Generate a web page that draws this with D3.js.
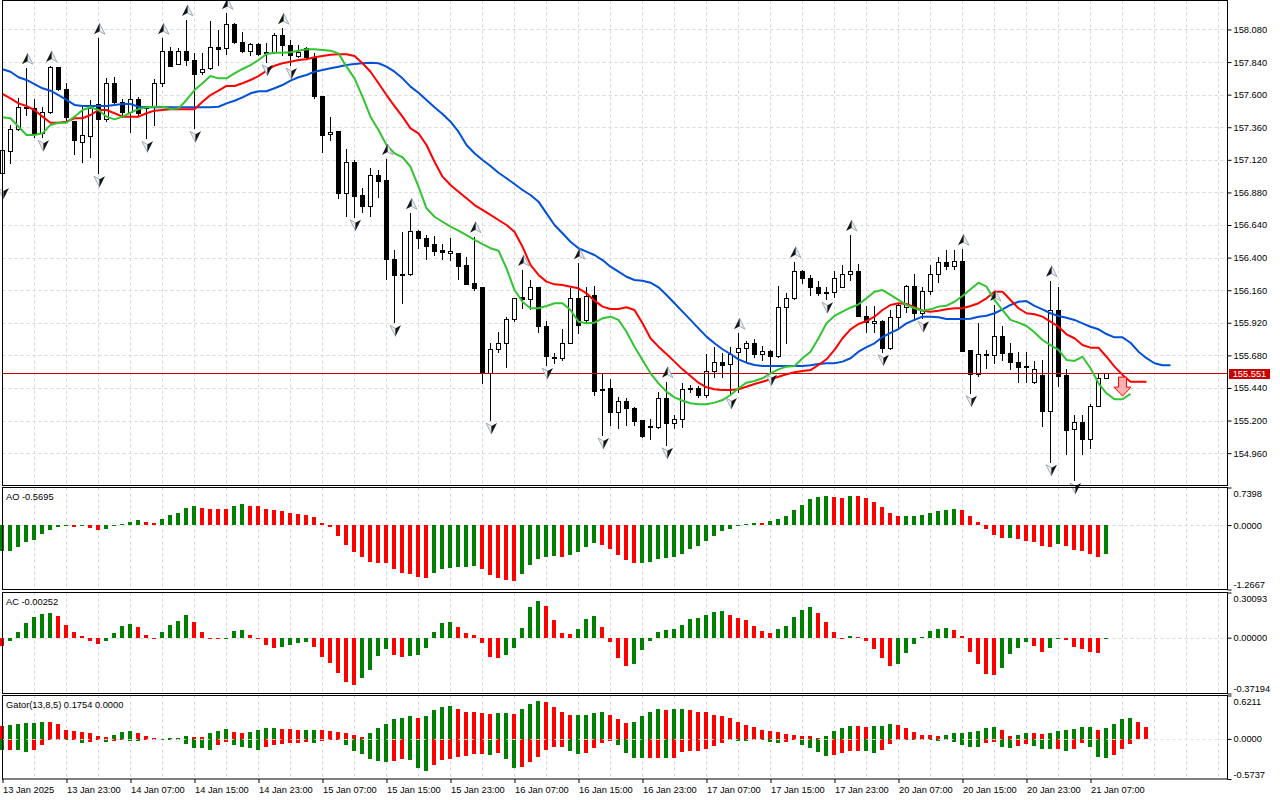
<!DOCTYPE html>
<html>
<head>
<meta charset="utf-8">
<script src="https://cdn.jsdelivr.net/npm/d3@7"></script>
<style>
  body { margin: 0; background: #fff; }
  svg { display: block; }
</style>
</head>
<body>
<svg id="chart" width="1280" height="800"></svg>
<script>
// USDJPY-like H1 candles (bar 0 = leftmost)
let open = [157.023,157.187,157.345,157.500,157.499,157.315,157.470,157.801,157.639,157.406,
157.254,157.298,157.529,157.423,157.684,157.546,157.474,157.570,157.516,157.507,
157.688,157.924,157.823,157.924,157.855,157.764,157.794,157.949,157.941,158.118,
157.990,157.924,157.971,157.916,157.912,158.039,157.966,157.887,157.941,157.880,
157.590,157.308,157.332,156.874,157.102,156.861,156.782,157.008,156.971,156.390,
156.275,156.279,156.596,156.542,156.500,156.456,156.432,156.432,156.346,156.211,
156.185,155.548,155.725,155.769,155.946,156.112,156.093,156.181,155.896,155.670,
155.658,155.773,156.100,155.940,156.125,155.423,155.437,155.261,155.344,155.290,
155.204,155.160,155.150,155.364,155.180,155.209,155.430,155.437,155.388,155.565,
155.629,155.616,155.703,155.732,155.769,155.688,155.715,155.678,156.039,156.100,
156.301,156.252,156.181,156.149,156.144,156.181,156.279,156.301,155.972,155.916,
155.933,155.737,155.965,156.034,156.190,155.990,156.154,156.279,156.365,156.338,
156.375,155.720,155.541,155.688,155.683,155.823,155.695,155.634,155.604,155.481,
155.535,155.273,156.014,155.535,155.135,155.187,155.062,155.307,155.511];
let high = [157.207,157.376,157.573,157.794,157.566,157.511,157.811,157.806,157.684,157.406,
157.511,157.561,158.015,157.720,157.728,157.570,157.708,157.585,157.516,157.715,
158.015,157.953,157.941,158.150,157.904,157.909,158.142,158.076,158.199,158.125,
158.059,157.978,157.978,157.978,158.052,158.089,158.002,157.966,157.949,157.904,
157.590,157.433,157.332,157.198,157.119,156.910,157.058,157.045,157.126,156.456,
156.591,156.726,156.603,156.566,156.559,156.500,156.542,156.436,156.402,156.554,
156.185,155.769,155.850,155.960,156.105,156.309,156.235,156.186,155.933,155.695,
155.872,156.174,156.358,156.185,156.190,155.548,155.504,155.371,155.369,155.302,
155.204,155.209,155.413,155.486,155.241,155.474,155.462,155.455,155.690,155.740,
155.700,155.740,155.843,155.788,155.798,155.749,155.720,156.190,156.137,156.370,
156.309,156.272,156.230,156.181,156.301,156.345,156.566,156.351,156.044,156.044,
155.940,156.014,156.068,156.198,156.279,156.186,156.345,156.407,156.456,156.456,
156.461,155.720,155.921,155.720,156.050,155.896,155.773,155.707,155.707,155.641,
155.646,156.230,156.186,155.577,155.241,155.241,155.320,155.548,155.553];
let low = [156.935,157.094,157.340,157.450,157.290,157.286,157.463,157.634,157.413,157.163,
157.106,157.139,157.021,157.408,157.536,157.438,157.327,157.450,157.278,157.377,
157.664,157.813,157.823,157.818,157.352,157.752,157.787,157.818,157.899,157.983,
157.912,157.892,157.892,157.843,157.904,157.890,157.818,157.880,157.868,157.573,
157.180,157.266,156.837,156.709,156.701,156.738,156.709,156.849,156.243,155.923,
156.068,156.275,156.468,156.390,156.419,156.390,156.382,156.243,156.206,156.161,
155.474,155.204,155.703,155.597,155.936,156.027,156.019,155.855,155.609,155.622,
155.646,155.773,155.843,155.920,155.388,155.094,155.167,155.143,155.167,155.167,
155.081,155.064,155.143,155.021,155.143,155.155,155.413,155.376,155.376,155.523,
155.523,155.388,155.413,155.634,155.666,155.646,155.560,155.666,155.773,156.093,
156.215,156.125,156.125,156.093,156.112,156.181,156.235,155.972,155.855,155.855,
155.707,155.725,155.891,156.002,155.940,155.953,156.132,156.223,156.314,156.314,
155.715,155.405,155.531,155.589,155.626,155.646,155.580,155.486,155.486,155.474,
155.162,154.897,155.457,154.951,154.762,154.951,155.000,155.307,155.511];
let close = [157.192,157.345,157.507,157.507,157.315,157.470,157.801,157.639,157.438,157.266,
157.303,157.499,157.421,157.684,157.548,157.474,157.570,157.467,157.499,157.684,
157.924,157.813,157.924,157.855,157.752,157.787,157.949,157.938,158.118,157.990,
157.924,157.971,157.899,157.909,158.039,157.966,157.892,157.916,157.875,157.590,
157.303,157.327,156.874,157.102,156.856,156.782,157.008,156.966,156.390,156.272,
156.279,156.596,156.542,156.488,156.451,156.439,156.449,156.341,156.206,156.178,
155.548,155.725,155.769,155.946,156.105,156.093,156.181,155.896,155.675,155.658,
155.773,156.100,155.904,156.120,155.420,155.435,155.261,155.346,155.290,155.199,
155.088,155.150,155.364,155.180,155.209,155.430,155.442,155.388,155.565,155.633,
155.609,155.690,155.732,155.769,155.688,155.715,155.678,156.034,156.100,156.301,
156.252,156.181,156.137,156.142,156.248,156.279,156.301,155.972,155.928,155.933,
155.737,155.965,156.051,156.190,155.990,156.154,156.279,156.365,156.338,156.375,
155.715,155.541,155.688,155.683,155.823,155.695,155.634,155.597,155.597,155.577,
155.273,156.014,155.530,155.130,155.187,155.062,155.307,155.511,155.551];

// Alligator lines (jaw runs 8 bars ahead, teeth 5, lips 3)
let jaw = [157.787,157.769,157.728,157.708,157.678,157.647,157.629,157.597,157.561,157.524,
157.516,157.516,157.516,157.516,157.524,157.531,157.531,157.511,157.507,157.507,
157.507,157.507,157.507,157.507,157.507,157.507,157.507,157.511,157.536,157.555,
157.580,157.610,157.625,157.625,157.647,157.671,157.703,157.728,157.745,157.769,
157.782,157.794,157.806,157.818,157.826,157.831,157.835,157.831,157.806,157.769,
157.720,157.659,157.614,157.561,157.507,157.458,157.401,157.327,157.229,157.168,
157.119,157.075,157.025,156.984,156.942,156.898,156.861,156.812,156.726,156.640,
156.579,156.517,156.469,156.444,156.419,156.382,156.333,156.296,156.259,156.235,
156.230,156.215,156.181,156.125,156.064,156.002,155.941,155.879,155.818,155.769,
155.725,155.690,155.651,155.626,155.609,155.602,155.602,155.602,155.602,155.602,
155.602,155.607,155.617,155.622,155.622,155.634,155.659,155.707,155.740,155.769,
155.815,155.845,155.874,155.916,155.941,155.965,155.965,155.960,155.948,155.948,
155.948,155.950,155.965,155.972,155.990,156.019,156.051,156.075,156.080,156.044,
156.019,155.990,155.970,155.957,155.941,155.916,155.891,155.872,155.837,155.813,
155.813,155.773,155.707,155.659,155.622,155.607,155.607];
let teeth = [157.605,157.573,157.536,157.516,157.487,157.438,157.393,157.393,157.401,157.426,
157.426,157.450,157.487,157.487,157.463,157.438,157.438,157.438,157.463,157.482,
157.487,157.492,157.492,157.492,157.492,157.548,157.597,157.629,157.664,157.664,
157.684,157.708,157.737,157.776,157.813,157.831,157.843,157.855,157.860,157.875,
157.885,157.894,157.897,157.897,157.885,157.831,157.769,157.684,157.597,157.516,
157.438,157.352,157.315,157.229,157.106,156.996,156.935,156.885,156.837,156.787,
156.751,156.714,156.677,156.640,156.591,156.480,156.346,156.272,156.223,156.203,
156.198,156.186,156.174,156.137,156.083,156.039,156.022,156.022,156.034,156.014,
155.916,155.806,155.744,155.690,155.634,155.577,155.528,155.479,155.445,155.430,
155.425,155.425,155.430,155.449,155.469,155.486,155.504,155.523,155.541,155.555,
155.565,155.572,155.609,155.651,155.720,155.806,155.872,155.911,155.933,155.965,
156.014,156.051,156.064,156.058,156.034,156.009,156.002,156.009,156.019,156.027,
156.027,156.044,156.064,156.100,156.149,156.149,156.088,156.027,155.990,155.983,
155.965,155.928,155.891,155.835,155.806,155.756,155.737,155.737,155.670,155.597,
155.536,155.486,155.486,155.486];
let lips = [157.433,157.426,157.364,157.303,157.303,157.315,157.377,157.393,157.393,157.438,
157.487,157.507,157.487,157.438,157.418,157.438,157.467,157.494,157.507,157.511,
157.511,157.494,157.499,157.561,157.634,157.684,157.737,157.720,157.720,157.757,
157.789,157.818,157.855,157.899,157.909,157.909,157.912,157.924,157.934,157.934,
157.929,157.924,157.904,157.806,157.720,157.585,157.438,157.340,157.229,157.168,
157.139,157.069,156.922,156.763,156.701,156.664,156.628,156.598,156.566,156.530,
156.500,156.469,156.451,156.321,156.161,156.075,156.027,156.027,156.044,156.064,
156.064,156.014,155.928,155.916,155.921,155.953,155.965,155.941,155.854,155.744,
155.646,155.548,155.474,155.413,155.371,155.346,155.327,155.320,155.320,155.332,
155.351,155.388,155.438,155.479,155.491,155.511,155.548,155.577,155.597,155.602,
155.659,155.707,155.806,155.916,155.970,156.002,156.031,156.056,156.100,156.149,
156.161,156.125,156.088,156.051,156.027,156.009,156.019,156.039,156.046,156.075,
156.117,156.167,156.215,156.186,156.088,156.014,155.941,155.921,155.896,155.850,
155.793,155.756,155.720,155.646,155.639,155.670,155.585,155.474,155.401,155.357,
155.357,155.396];

// Fractal bars
let fractalUp = [3,6,12,20,23,28,35,48,51,59,65,72,83,92,99,106,120,124,131];
let fractalDown = [0,5,12,18,24,33,36,44,49,61,68,75,83,91,96,103,110,115,121,131,134];

// sell signal arrow
let signalBar = 140;
let signalPrice = 155.52;

// Awesome Oscillator
let aoBefore = -0.53;
let ao = [-0.518,-0.505,-0.426,-0.341,-0.289,-0.184,-0.105,-0.046,-0.013,-0.046,
-0.026,-0.066,-0.105,-0.079,-0.026,0.020,0.066,0.092,0.066,0.046,
0.125,0.203,0.243,0.341,0.367,0.341,0.321,0.318,0.315,0.380,
0.420,0.380,0.376,0.321,0.289,0.269,0.243,0.212,0.208,0.164,
0.046,-0.039,-0.210,-0.387,-0.538,-0.636,-0.721,-0.741,-0.754,-0.872,
-0.944,-0.964,-1.030,-1.049,-0.951,-0.872,-0.836,-0.830,-0.816,-0.810,
-0.872,-0.990,-1.049,-1.085,-1.092,-0.970,-0.793,-0.675,-0.620,-0.612,
-0.636,-0.597,-0.538,-0.439,-0.361,-0.400,-0.479,-0.597,-0.695,-0.754,
-0.738,-0.731,-0.675,-0.656,-0.636,-0.564,-0.479,-0.420,-0.315,-0.223,
-0.125,-0.079,-0.020,0.020,0.036,0.032,0.072,0.125,0.184,0.289,
0.400,0.511,0.557,0.577,0.557,0.538,0.577,0.573,0.538,0.459,
0.361,0.243,0.180,0.182,0.186,0.203,0.243,0.282,0.302,0.321,
0.302,0.184,0.066,-0.085,-0.203,-0.262,-0.258,-0.282,-0.308,-0.341,
-0.420,-0.439,-0.380,-0.420,-0.498,-0.511,-0.577,-0.636,-0.5695];

// Accelerator Oscillator
let acBefore = -0.05;
let ac = [-0.056,-0.022,0.040,0.100,0.140,0.160,0.167,0.147,0.087,0.040,
0.013,-0.022,-0.042,-0.022,0.033,0.080,0.094,0.073,0.020,-0.002,
0.040,0.087,0.114,0.154,0.107,0.040,-0.004,-0.011,-0.008,0.047,
0.053,0.020,-0.004,-0.051,-0.071,-0.065,-0.051,-0.038,-0.031,-0.065,
-0.131,-0.171,-0.238,-0.298,-0.312,-0.272,-0.218,-0.125,-0.078,-0.118,
-0.131,-0.125,-0.118,-0.071,0.040,0.100,0.107,0.073,0.033,0.020,
-0.038,-0.129,-0.133,-0.118,-0.071,0.067,0.207,0.241,0.214,0.120,
0.033,0.027,0.060,0.127,0.147,0.073,-0.031,-0.138,-0.192,-0.178,
-0.085,-0.024,0.040,0.053,0.060,0.087,0.127,0.134,0.154,0.174,
0.180,0.154,0.134,0.120,0.080,0.047,0.033,0.060,0.080,0.140,
0.187,0.207,0.167,0.107,0.040,-0.004,0.011,0.002,-0.024,-0.073,
-0.138,-0.192,-0.178,-0.105,-0.045,0.007,0.047,0.058,0.062,0.053,
0.013,-0.098,-0.178,-0.245,-0.252,-0.205,-0.111,-0.071,-0.031,-0.058,
-0.098,-0.071,-0.004,-0.018,-0.065,-0.078,-0.098,-0.105,-0.00252];

// Gator oscillator
let gatorUpBefore = 0.20;
let gatorUp = [0.191,0.196,0.215,0.222,0.234,0.249,0.245,0.211,0.134,0.110,
0.105,0.091,0.048,0.029,0.062,0.105,0.120,0.091,0.048,0.014,
0.005,0.010,0.014,0.040,0.030,0.025,0.086,0.115,0.144,0.100,
0.091,0.095,0.134,0.156,0.160,0.148,0.139,0.124,0.126,0.128,
0.122,0.118,0.105,0.091,0.062,0.024,0.091,0.163,0.220,0.278,
0.306,0.321,0.306,0.325,0.407,0.460,0.466,0.421,0.392,0.378,
0.366,0.362,0.364,0.366,0.360,0.421,0.493,0.536,0.522,0.450,
0.392,0.335,0.338,0.349,0.376,0.380,0.335,0.278,0.234,0.249,
0.321,0.378,0.421,0.419,0.421,0.423,0.420,0.392,0.378,0.349,
0.321,0.292,0.249,0.206,0.177,0.134,0.120,0.105,0.077,0.050,
0.048,0.046,0.019,0.048,0.120,0.163,0.191,0.189,0.177,0.179,
0.191,0.220,0.206,0.163,0.105,0.062,0.050,0.046,0.062,0.089,
0.091,0.105,0.120,0.161,0.165,0.134,0.048,0.052,0.091,0.079,
0.075,0.091,0.120,0.134,0.148,0.175,0.177,0.134,0.163,0.220,
0.290,0.292,0.249,0.1754];
let gatorDownBefore = -0.15;
let gatorDown = [-0.163,-0.153,-0.155,-0.191,-0.163,-0.081,-0.004,-0.002,-0.019,-0.003,
-0.062,-0.048,-0.010,-0.048,-0.033,-0.010,-0.033,-0.036,-0.019,-0.002,
-0.019,-0.021,-0.005,-0.077,-0.134,-0.136,-0.153,-0.091,-0.048,-0.091,
-0.120,-0.134,-0.153,-0.120,-0.091,-0.077,-0.065,-0.060,-0.048,-0.062,
-0.033,-0.019,-0.010,-0.091,-0.167,-0.220,-0.292,-0.321,-0.335,-0.321,
-0.292,-0.306,-0.421,-0.464,-0.378,-0.306,-0.292,-0.263,-0.249,-0.222,
-0.220,-0.234,-0.206,-0.292,-0.421,-0.407,-0.335,-0.263,-0.163,-0.122,
-0.120,-0.177,-0.220,-0.206,-0.134,-0.062,-0.033,-0.091,-0.206,-0.278,
-0.280,-0.278,-0.276,-0.279,-0.277,-0.191,-0.177,-0.176,-0.148,-0.105,
-0.062,-0.019,-0.033,-0.035,-0.019,-0.021,-0.048,-0.062,-0.048,-0.019,
-0.091,-0.134,-0.191,-0.249,-0.234,-0.200,-0.177,-0.175,-0.178,-0.206,
-0.163,-0.077,-0.019,-0.010,-0.019,-0.005,-0.010,-0.033,-0.019,-0.048,
-0.091,-0.120,-0.122,-0.062,-0.048,-0.120,-0.134,-0.105,-0.077,-0.105,
-0.148,-0.150,-0.146,-0.177,-0.148,-0.062,-0.120,-0.263,-0.278,-0.234,
-0.148,-0.077,0,0];

// axis labels
let priceTicks = [158.080,157.840,157.600,157.360,157.120,156.880,156.640,156.400,156.160,155.920,155.680,155.440,155.200,154.960];
let lastPrice = 155.551;
let aoTicks = [0.7398, 0, -1.2667];
let aoTickText = ["0.7398", "0.0000", "-1.2667"];
let acTicks = [0.30093, 0, -0.37194];
let acTickText = ["0.30093", "0.00000", "-0.37194"];
let gatorTicks = [0.6211, 0, -0.5737];
let gatorTickText = ["0.6211", "0.0000", "-0.5737"];
let dateBars = [0,8,16,24,32,40,48,56,64,72,80,88,96,104,112,120,128,136];
let dateLabels = ["13 Jan 2025","13 Jan 23:00","14 Jan 07:00","14 Jan 15:00","14 Jan 23:00",
  "15 Jan 07:00","15 Jan 15:00","15 Jan 23:00","16 Jan 07:00","16 Jan 15:00","16 Jan 23:00",
  "17 Jan 07:00","17 Jan 15:00","17 Jan 23:00","20 Jan 07:00","20 Jan 15:00","20 Jan 23:00","21 Jan 07:00"];

const FONT = "'Liberation Sans', Arial, sans-serif";
const FSIZE = 9.3;
const GREEN = "#008000", RED = "#ff0000";
const LEFT = 2.5, RIGHT = 1227.5;

let panes = {
  main: { top: 0.5, bottom: 485.5 },
  ao: { top: 487.5, bottom: 589.5 },
  ac: { top: 592.5, bottom: 693.5 },
  gator: { top: 695.5, bottom: 779 }
};

let x = d3.scaleLinear().domain([0, 153]).range([2.5, 2.5 + 8 * 153]);
let yMain = d3.scaleLinear().domain([154.718, 158.297]).range([486, 0]);
let yAO = d3.scaleLinear().domain([-1.2667, 0.7398]).range([panes.ao.bottom, panes.ao.top]);
let yAC = d3.scaleLinear().domain([-0.37194, 0.30093]).range([panes.ac.bottom, panes.ac.top]);
let yGator = d3.scaleLinear().domain([-0.5737, 0.6211]).range([panes.gator.bottom, panes.gator.top]);

let svg = d3.select("#chart");
svg.append("rect").attr("width", 1280).attr("height", 800).attr("fill", "#fff");

// vertical grid in every pane
let gridBars = d3.range(4, 153, 4);
Object.values(panes).forEach(p => {
  svg.append("g").selectAll("line").data(gridBars).join("line")
    .attr("x1", d => x(d)).attr("x2", d => x(d))
    .attr("y1", p.top).attr("y2", p.bottom)
    .attr("stroke", "#d8d8d8").attr("stroke-dasharray", "3,3");
});

// horizontal grid in main pane
svg.append("g").selectAll("line").data(priceTicks).join("line")
  .attr("x1", LEFT).attr("x2", RIGHT)
  .attr("y1", d => Math.round(yMain(d)) + 0.5).attr("y2", d => Math.round(yMain(d)) + 0.5)
  .attr("stroke", "#d8d8d8").attr("stroke-dasharray", "3,3");

// zero lines for AO / AC (under the bars)
[[yAO, 0], [yAC, 0]].forEach(([s, v]) => {
  svg.append("line").attr("x1", LEFT).attr("x2", RIGHT)
    .attr("y1", Math.round(s(v)) + 0.5).attr("y2", Math.round(s(v)) + 0.5)
    .attr("stroke", "#d8d8d8").attr("stroke-dasharray", "3,3");
});

// candles
let bars = open.map((o, i) => ({ i: i, o: o, h: high[i], l: low[i], c: close[i] }));
let gCandles = svg.append("g");
gCandles.selectAll("line").data(bars).join("line")
  .attr("x1", d => x(d.i)).attr("x2", d => x(d.i))
  .attr("y1", d => Math.round(yMain(d.h))).attr("y2", d => Math.round(yMain(d.l)) + 1)
  .attr("stroke", "#000");
gCandles.selectAll("rect").data(bars).join("rect")
  .attr("x", d => x(d.i) - 2)
  .attr("y", d => Math.round(yMain(Math.max(d.o, d.c))) + 0.5)
  .attr("width", 4)
  .attr("height", d => Math.round(yMain(Math.min(d.o, d.c))) - Math.round(yMain(Math.max(d.o, d.c))))
  .attr("fill", d => d.c >= d.o ? "#fff" : "#000")
  .attr("stroke", "#000");

// bid line
let yBid = Math.round(yMain(lastPrice)) + 0.5;
svg.append("line").attr("x1", LEFT).attr("x2", RIGHT).attr("y1", yBid).attr("y2", yBid)
  .attr("stroke", "#c80000");

// alligator
let line = d3.line().x((d, i) => x(i)).y(d => yMain(d));
[[jaw, "#0050d8"], [teeth, "#ff0000"], [lips, "#33c433"]].forEach(([arr, col]) => {
  svg.append("path").datum(arr).attr("d", line)
    .attr("fill", "none").attr("stroke", col).attr("stroke-width", 2)
    .attr("stroke-linejoin", "round");
});

// fractals
let gFr = svg.append("g");
fractalUp.forEach(i => {
  let cx = x(i) + 1, cy = yMain(high[i]) - 9;
  gFr.append("path").attr("d", `M${cx},${cy - 6}L${cx + 5.5},${cy + 5}L${cx},${cy + 2}Z`)
    .attr("fill", "#e8ecf2").attr("stroke", "#8d99a8").attr("stroke-width", 0.8);
  gFr.append("path").attr("d", `M${cx},${cy - 6}L${cx},${cy + 2}L${cx - 5.5},${cy + 5}Z`).attr("fill", "#151515");
});
fractalDown.forEach(i => {
  let cx = x(i) + 1, cy = yMain(low[i]) + 8;
  gFr.append("path").attr("d", `M${cx},${cy + 6}L${cx - 5.5},${cy - 5}L${cx},${cy - 2}Z`)
    .attr("fill", "#e8ecf2").attr("stroke", "#8d99a8").attr("stroke-width", 0.8);
  gFr.append("path").attr("d", `M${cx},${cy + 6}L${cx},${cy - 2}L${cx + 5.5},${cy - 5}Z`).attr("fill", "#151515");
});

// sell signal arrow
{
  let cx = x(signalBar), ty = yMain(signalPrice);
  let pts = [[-4, 0], [4, 0], [4, 10], [8.5, 10], [0, 19], [-8.5, 10], [-4, 10]];
  svg.append("path")
    .attr("d", "M" + pts.map(p => (cx + p[0]) + "," + (ty + p[1])).join("L") + "Z")
    .attr("fill", "#ffb0b0").attr("stroke", "#ff0000").attr("stroke-width", 1);
}

// histogram helper
function histogram(values, before, scale, magnitude) {
  let g = svg.append("g");
  g.selectAll("rect").data(values.map((v, i) => ({ i: i, v: v })).filter(d => d.v !== 0))
    .join("rect")
    .attr("x", d => x(d.i) - 2.5)
    .attr("width", 4)
    .attr("y", d => Math.round(scale(Math.max(d.v, 0))))
    .attr("height", d => Math.max(1, Math.round(scale(Math.min(d.v, 0))) - Math.round(scale(Math.max(d.v, 0)))))
    .attr("fill", d => {
      let prev = d.i === 0 ? before : values[d.i - 1];
      let up = magnitude ? Math.abs(d.v) > Math.abs(prev) : d.v > prev;
      return up ? GREEN : RED;
    });
}
histogram(ao, aoBefore, yAO, false);
histogram(ac, acBefore, yAC, false);
histogram(gatorUp, gatorUpBefore, yGator, true);
histogram(gatorDown, gatorDownBefore, yGator, true);

// gator zero line drawn over the bars
svg.append("line").attr("x1", LEFT).attr("x2", RIGHT)
  .attr("y1", Math.round(yGator(0)) + 0.5).attr("y2", Math.round(yGator(0)) + 0.5)
  .attr("stroke", "#e4e4e4").attr("stroke-dasharray", "3,3");

// pane frames
Object.values(panes).forEach(p => {
  svg.append("rect").attr("x", LEFT).attr("y", p.top)
    .attr("width", RIGHT - LEFT).attr("height", p.bottom - p.top)
    .attr("fill", "none").attr("stroke", "#000");
});

// price axis
let axMain = svg.append("g").attr("transform", `translate(${RIGHT},0)`)
  .call(d3.axisRight(yMain).tickValues(priceTicks).tickFormat(d3.format(".3f")).tickSize(4).tickPadding(2));
axMain.select(".domain").remove();

function indicatorAxis(scale, ticks, texts) {
  let g = svg.append("g").attr("transform", `translate(${RIGHT},0)`)
    .call(d3.axisRight(scale).tickValues(ticks).tickFormat((d, i) => texts[i]).tickSize(4).tickPadding(2));
  g.select(".domain").remove();
  g.selectAll(".tick text").attr("dy", (d, i) => i === 0 ? "0.95em" : i === ticks.length - 1 ? "-0.2em" : "0.32em");
  return g;
}
indicatorAxis(yAO, aoTicks, aoTickText);
indicatorAxis(yAC, acTicks, acTickText);
indicatorAxis(yGator, gatorTicks, gatorTickText);

// date axis
let axX = svg.append("g").attr("transform", `translate(0,${panes.gator.bottom})`)
  .call(d3.axisBottom(x).tickValues(dateBars).tickFormat((d, i) => dateLabels[i]).tickSize(4).tickPadding(3));
axX.select(".domain").remove();
axX.selectAll(".tick text").attr("text-anchor", "start").attr("x", 0);

svg.selectAll("g").filter(function () { return this.getAttribute("font-family"); })
  .attr("font-family", FONT).attr("font-size", FSIZE);
svg.selectAll(".tick line").attr("stroke", "#000");
svg.selectAll(".tick text").attr("fill", "#000");

// current price tag
svg.append("rect").attr("x", 1229).attr("y", yBid - 4.5).attr("width", 41).attr("height", 10)
  .attr("fill", "#c80000");
svg.append("text").attr("x", 1249.5).attr("y", yBid).attr("dy", "0.34em")
  .attr("text-anchor", "middle").attr("fill", "#fff")
  .attr("font-family", FONT).attr("font-size", FSIZE).text(lastPrice.toFixed(3));

// pane titles
[["AO -0.5695", 500], ["AC -0.00252", 604.5], ["Gator(13,8,5) 0.1754 0.0000", 707.5]].forEach(([t, y]) => {
  svg.append("text").attr("x", 6).attr("y", y).attr("font-family", FONT).attr("font-size", FSIZE)
    .attr("fill", "#000").text(t);
});
</script>
</body>
</html>
